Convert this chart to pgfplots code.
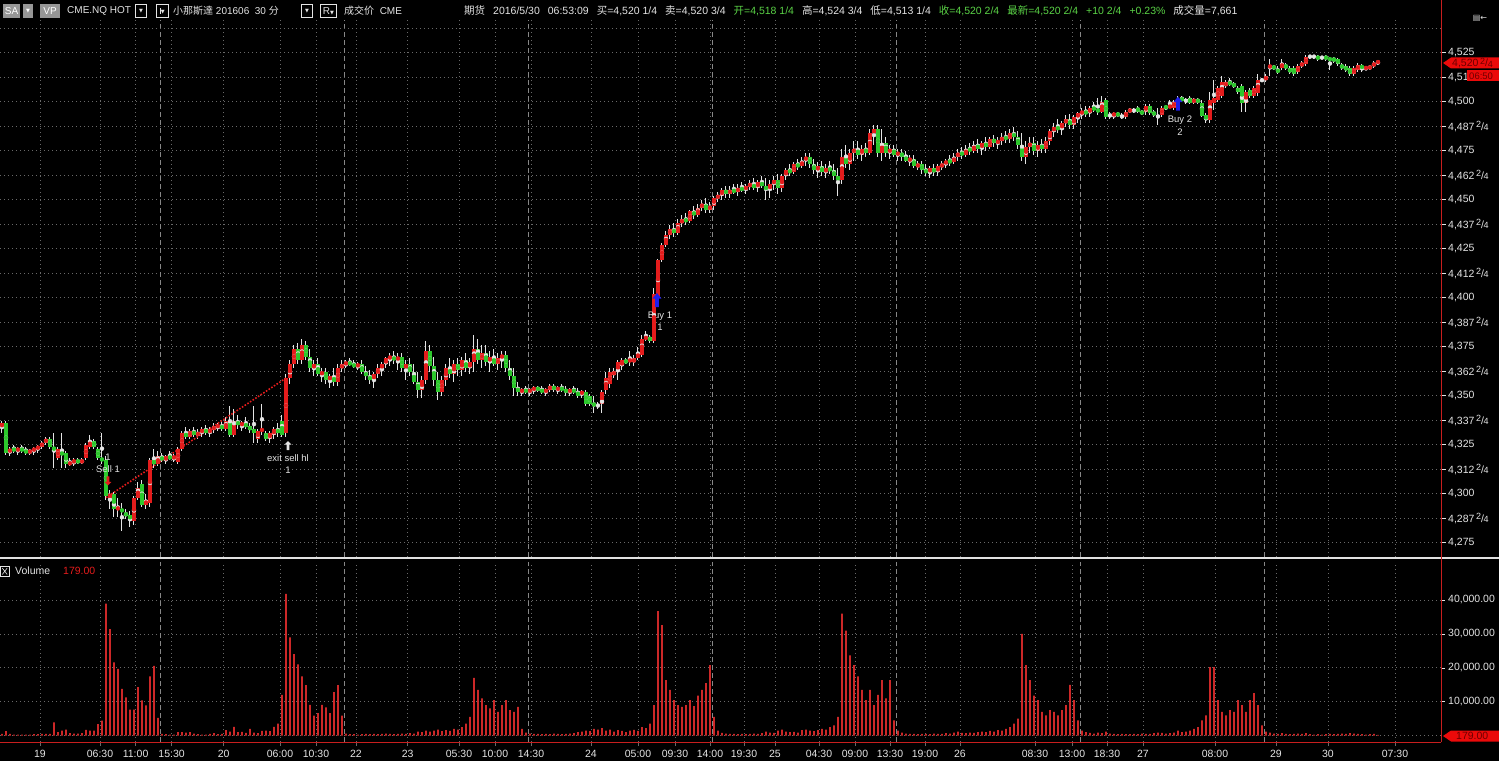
\documentclass[border=0pt]{standalone}
\usepackage{pgfplots}
\pgfplotsset{compat=1.18}
\usepackage{pgfplotstable}
\usepackage{fontspec}
\setmainfont{Liberation Sans}
\newfontfamily\cjk{Noto Sans CJK SC}
\newfontfamily\dejavu{DejaVu Sans}

\definecolor{upred}{RGB}{228,28,28}
\definecolor{dngreen}{RGB}{44,200,44}
\definecolor{volred}{RGB}{205,40,40}
\definecolor{axred}{RGB}{200,30,30}
\definecolor{gridc}{RGB}{105,105,105}
\definecolor{dashc}{RGB}{135,135,135}
\definecolor{txt}{RGB}{228,228,228}
\definecolor{hgreen}{RGB}{90,210,70}
\definecolor{tagred}{RGB}{235,10,10}
\definecolor{tagtxt}{RGB}{110,0,0}
\definecolor{btnfill}{RGB}{150,150,150}
\definecolor{buyblue}{RGB}{30,30,235}

\newcommand{\hf}{\,\raisebox{2.8pt}{\fontsize{9}{9}\selectfont 2}\kern-0.2pt/\kern-0.2pt\raisebox{-0.4pt}{\fontsize{9}{9}\selectfont 4}}
\newcommand{\fs}{\fontsize{9.5}{11}\selectfont}
\newcommand{\ts}{\fontsize{10.5}{12}\selectfont}
\newcommand{\hs}{\fontsize{10}{11}\selectfont}
\newcommand{\gap}{\hspace{8pt}}

\pgfdeclareplotmark{uparrow}{%
 \pgfpathmoveto{\pgfqpoint{0pt}{7pt}}%
 \pgfpathlineto{\pgfqpoint{4.5pt}{1.5pt}}%
 \pgfpathlineto{\pgfqpoint{1.8pt}{1.5pt}}%
 \pgfpathlineto{\pgfqpoint{1.8pt}{-7pt}}%
 \pgfpathlineto{\pgfqpoint{-1.8pt}{-7pt}}%
 \pgfpathlineto{\pgfqpoint{-1.8pt}{1.5pt}}%
 \pgfpathlineto{\pgfqpoint{-4.5pt}{1.5pt}}%
 \pgfpathclose\pgfusepathqfill}
\pgfdeclareplotmark{smallup}{%
 \pgfpathmoveto{\pgfqpoint{0pt}{4.5pt}}%
 \pgfpathlineto{\pgfqpoint{3.5pt}{1pt}}%
 \pgfpathlineto{\pgfqpoint{1.3pt}{1pt}}%
 \pgfpathlineto{\pgfqpoint{1.3pt}{-4.5pt}}%
 \pgfpathlineto{\pgfqpoint{-1.3pt}{-4.5pt}}%
 \pgfpathlineto{\pgfqpoint{-1.3pt}{1pt}}%
 \pgfpathlineto{\pgfqpoint{-3.5pt}{1pt}}%
 \pgfpathclose\pgfusepathqfill}
\pgfdeclareplotmark{dnarrow}{%
 \pgfpathmoveto{\pgfqpoint{0pt}{-4.5pt}}%
 \pgfpathlineto{\pgfqpoint{3.5pt}{-1pt}}%
 \pgfpathlineto{\pgfqpoint{1.3pt}{-1pt}}%
 \pgfpathlineto{\pgfqpoint{1.3pt}{4.5pt}}%
 \pgfpathlineto{\pgfqpoint{-1.3pt}{4.5pt}}%
 \pgfpathlineto{\pgfqpoint{-1.3pt}{-1pt}}%
 \pgfpathlineto{\pgfqpoint{-3.5pt}{-1pt}}%
 \pgfpathclose\pgfusepathqfill}

\pgfplotstableread{
i o h l c v
0 4334 4337 4331 4336 500
1 4336 4337 4320 4321 1300
2 4321 4324 4319 4323 500
3 4323 4325 4321 4322 300
4 4322 4324 4320 4323 300
5 4323 4325 4321 4322 300
6 4322 4324 4320 4321 300
7 4321 4323 4320 4322 300
8 4322 4324 4320 4323 400
9 4323 4325 4321 4324 400
10 4324 4327 4323 4326 500
11 4326 4329 4325 4328 500
12 4328 4329 4323 4324 500
13 4324 4331 4313 4322 3900
14 4318 4324 4317 4323 1000
15 4321 4331 4313 4320 1500
16 4321 4322 4313 4315 1800
17 4315 4318 4314 4316 700
18 4316 4318 4314 4317 600
19 4317 4318 4315 4316 600
20 4316 4318 4315 4317 700
21 4318 4326 4317 4325 1700
22 4324 4330 4323 4327 1500
23 4327 4328 4323 4324 1500
24 4323 4324 4317 4318 3400
25 4318 4331 4315 4317 4400
26 4317 4319 4297 4299 38900
27 4298 4302 4292 4300 31400
28 4300 4301 4288 4292 21600
29 4292 4298 4288 4293 19700
30 4292 4295 4281 4291 13800
31 4290 4292 4287 4289 11300
32 4289 4291 4283 4287 7700
33 4286 4299 4284 4298 7700
34 4298 4306 4297 4303 14300
35 4305 4307 4293 4294 10400
36 4294 4300 4292 4297 8900
37 4295 4318 4293 4317 17500
38 4317 4323 4313 4315 20600
39 4315 4322 4314 4319 5200
40 4319 4321 4316 4317 500
41 4317 4320 4315 4319 400
42 4319 4322 4317 4318 300
43 4318 4320 4316 4319 300
44 4316 4324 4315 4323 1000
45 4323 4332 4322 4331 1000
46 4331 4334 4328 4329 900
47 4329 4333 4328 4332 1000
48 4332 4334 4329 4330 600
49 4330 4333 4328 4331 400
50 4331 4334 4329 4333 300
51 4333 4335 4330 4331 300
52 4331 4334 4329 4333 500
53 4333 4336 4331 4334 700
54 4334 4336 4332 4335 400
55 4335 4337 4332 4333 500
56 4333 4339 4332 4337 1600
57 4337 4345 4329 4330 1200
58 4330 4343 4329 4337 2600
59 4337 4340 4333 4335 1000
60 4335 4337 4332 4336 1100
61 4336 4339 4333 4334 800
62 4334 4336 4331 4333 2000
63 4333 4345 4326 4331 900
64 4328 4333 4326 4332 700
65 4332 4346 4330 4333 1400
66 4331 4332 4327 4328 1500
67 4328 4332 4326 4331 1300
68 4330 4334 4328 4333 2600
69 4333 4336 4329 4331 3500
70 4337 4340 4329 4330 12000
71 4331 4361 4329 4359 41800
72 4359 4368 4356 4366 29000
73 4366 4376 4364 4374 24000
74 4374 4377 4366 4368 21000
75 4368 4379 4366 4376 17500
76 4376 4378 4368 4370 14900
77 4370 4374 4362 4364 9100
78 4364 4368 4360 4366 5900
79 4366 4369 4360 4361 6600
80 4361 4364 4357 4362 9100
81 4362 4364 4356 4358 8300
82 4358 4361 4354 4360 6600
83 4360 4364 4355 4357 12800
84 4357 4366 4355 4364 14900
85 4364 4368 4362 4366 5900
86 4366 4368 4364 4367 600
87 4367 4369 4365 4366 400
88 4366 4368 4364 4365 400
89 4365 4367 4363 4366 300
90 4366 4368 4361 4362 400
91 4362 4365 4358 4360 500
92 4360 4363 4356 4358 400
93 4358 4362 4354 4361 500
94 4361 4366 4359 4364 400
95 4364 4367 4360 4366 500
96 4366 4370 4364 4369 600
97 4369 4372 4365 4370 500
98 4370 4373 4366 4368 400
99 4368 4372 4363 4370 500
100 4370 4372 4362 4364 600
101 4364 4368 4358 4366 500
102 4366 4369 4360 4362 700
103 4362 4366 4356 4357 600
104 4357 4362 4349 4353 1200
105 4353 4360 4349 4358 1000
106 4358 4378 4356 4373 1500
107 4373 4376 4362 4365 1200
108 4365 4370 4355 4358 1500
109 4358 4362 4348 4352 1800
110 4352 4360 4350 4358 1300
111 4358 4366 4355 4364 1600
112 4364 4369 4359 4361 1400
113 4361 4368 4357 4366 2000
114 4366 4369 4360 4363 1800
115 4363 4370 4360 4368 2500
116 4368 4372 4362 4364 3500
117 4364 4369 4361 4367 5500
118 4367 4381 4362 4374 17000
119 4374 4379 4366 4368 13500
120 4368 4376 4364 4372 11000
121 4372 4376 4365 4367 9000
122 4367 4373 4362 4370 8000
123 4370 4374 4365 4366 10500
124 4366 4372 4363 4369 7000
125 4369 4373 4364 4371 9000
126 4371 4373 4362 4364 10500
127 4364 4368 4358 4360 7500
128 4360 4364 4350 4354 7000
129 4354 4357 4350 4352 8500
130 4352 4354 4350 4353 2000
131 4353 4355 4351 4352 900
132 4352 4354 4350 4353 600
133 4353 4355 4351 4354 500
134 4354 4355 4352 4353 500
135 4353 4355 4351 4352 400
136 4352 4354 4350 4353 500
137 4353 4356 4352 4355 400
138 4355 4356 4352 4353 600
139 4353 4355 4351 4354 500
140 4354 4356 4352 4353 400
141 4353 4355 4350 4352 500
142 4352 4354 4350 4353 600
143 4353 4355 4351 4352 700
144 4352 4354 4349 4350 1000
145 4351 4353 4349 4352 1200
146 4352 4353 4345 4346 1500
147 4350 4351 4345 4346 1300
148 4346 4350 4341 4345 2000
149 4345 4347 4343 4345 1800
150 4346 4353 4341 4352 2200
151 4353 4362 4351 4359 1500
152 4356 4364 4354 4362 1800
153 4361 4364 4359 4362 1200
154 4362 4368 4358 4367 1600
155 4365 4369 4363 4368 1400
156 4368 4369 4366 4367 1000
157 4367 4373 4365 4369 1500
158 4367 4371 4365 4369 1700
159 4369 4375 4368 4372 1400
160 4371 4381 4370 4379 2500
161 4379 4383 4378 4380 2200
162 4380 4381 4377 4378 3500
163 4378 4405 4377 4402 9000
164 4400 4420 4398 4419 36700
165 4419 4428 4418 4427 32600
166 4427 4434 4426 4432 16400
167 4432 4437 4430 4435 13500
168 4435 4438 4431 4433 10500
169 4433 4440 4432 4438 9000
170 4438 4442 4436 4440 8500
171 4440 4443 4437 4439 9000
172 4439 4445 4438 4444 10500
173 4444 4447 4440 4442 8700
174 4442 4448 4441 4446 11800
175 4446 4450 4444 4448 13500
176 4448 4451 4443 4445 15500
177 4445 4449 4443 4447 20800
178 4447 4452 4445 4451 5500
179 4451 4454 4449 4452 1500
180 4452 4456 4450 4455 800
181 4455 4457 4451 4453 600
182 4453 4457 4451 4455 500
183 4455 4458 4453 4454 500
184 4454 4458 4452 4456 400
185 4456 4459 4454 4455 500
186 4455 4458 4453 4457 400
187 4457 4460 4455 4458 500
188 4458 4461 4455 4456 600
189 4456 4460 4454 4459 500
190 4459 4462 4456 4457 700
191 4457 4461 4450 4455 1200
192 4455 4460 4451 4458 900
193 4458 4462 4455 4460 800
194 4460 4463 4453 4456 1500
195 4456 4463 4454 4462 1800
196 4462 4466 4460 4465 1200
197 4465 4468 4462 4464 1000
198 4464 4469 4463 4468 1100
199 4468 4471 4465 4467 900
200 4467 4472 4466 4470 1600
201 4470 4474 4467 4472 1800
202 4472 4474 4466 4468 1500
203 4468 4471 4463 4465 1300
204 4465 4469 4461 4467 1600
205 4467 4470 4462 4464 2000
206 4464 4468 4461 4466 1800
207 4466 4470 4463 4465 2500
208 4465 4468 4460 4462 3000
209 4462 4466 4452 4460 5500
210 4460 4476 4458 4472 36000
211 4472 4478 4466 4468 31000
212 4468 4476 4465 4474 23700
213 4474 4480 4470 4476 20800
214 4476 4480 4471 4473 17500
215 4473 4478 4470 4476 13500
216 4476 4479 4472 4474 10500
217 4474 4486 4473 4484 13500
218 4484 4488 4478 4486 9000
219 4486 4488 4472 4474 12000
220 4474 4486 4470 4479 16400
221 4479 4482 4472 4474 11000
222 4474 4478 4471 4476 16400
223 4476 4478 4472 4473 4500
224 4473 4476 4470 4474 1500
225 4474 4476 4470 4472 900
226 4472 4475 4469 4470 600
227 4470 4473 4467 4471 500
228 4471 4473 4466 4467 500
229 4467 4470 4465 4468 400
230 4468 4470 4463 4465 500
231 4465 4468 4462 4464 500
232 4464 4467 4461 4466 400
233 4466 4468 4462 4464 600
234 4464 4468 4462 4467 500
235 4467 4470 4465 4468 500
236 4468 4471 4466 4470 700
237 4470 4473 4467 4469 600
238 4469 4474 4468 4472 900
239 4472 4476 4470 4474 1200
240 4474 4477 4471 4473 800
241 4473 4478 4472 4476 700
242 4476 4479 4473 4475 900
243 4475 4480 4474 4478 800
244 4478 4481 4474 4476 1000
245 4476 4480 4473 4479 1200
246 4479 4482 4475 4477 1000
247 4477 4482 4476 4481 1400
248 4481 4483 4477 4479 1200
249 4479 4482 4476 4480 1600
250 4480 4484 4478 4482 1500
251 4482 4485 4479 4481 2000
252 4481 4486 4479 4484 2500
253 4484 4487 4480 4482 3500
254 4482 4485 4476 4478 5000
255 4478 4484 4470 4472 30000
256 4472 4480 4468 4477 20800
257 4477 4482 4474 4479 16400
258 4479 4482 4473 4475 11800
259 4475 4480 4472 4478 10500
260 4478 4481 4474 4476 7000
261 4476 4482 4474 4480 6000
262 4480 4486 4478 4485 7500
263 4485 4489 4482 4487 7000
264 4487 4491 4484 4486 6000
265 4486 4490 4483 4489 7500
266 4489 4493 4487 4491 9000
267 4491 4494 4486 4488 15000
268 4488 4493 4486 4492 10500
269 4492 4495 4489 4494 4500
270 4494 4497 4491 4495 1500
271 4495 4498 4492 4494 1000
272 4494 4498 4492 4497 800
273 4497 4500 4495 4496 600
274 4496 4502 4493 4495 900
275 4495 4503 4494 4500 700
276 4501 4502 4491 4492 1200
277 4493 4495 4491 4493 600
278 4493 4495 4491 4494 500
279 4494 4495 4492 4493 400
280 4493 4494 4491 4493 500
281 4492 4496 4491 4495 400
282 4495 4497 4494 4496 400
283 4496 4497 4494 4496 500
284 4497 4498 4494 4495 400
285 4495 4496 4493 4494 600
286 4495 4499 4493 4498 500
287 4498 4499 4493 4494 500
288 4495 4496 4492 4493 700
289 4493 4497 4488 4493 900
290 4493 4498 4492 4497 800
291 4497.5 4498 4496 4497 600
292 4497 4501 4497 4498 700
293 4497 4501 4496 4500 900
294 4500 4503 4498 4501 1500
295 4502 4503 4500 4500.5 1000
296 4501 4502 4499 4501 1200
297 4502 4503 4499 4499.5 1500
298 4500 4502 4499 4501 2000
299 4501 4502 4499 4500 2500
300 4499.5 4501 4492 4492.5 4500
301 4493 4494 4489 4491 6000
302 4490.5 4505 4489 4501 20200
303 4499.5 4511 4496 4502 20200
304 4501 4508 4500 4507 10500
305 4503 4513 4502 4510 7000
306 4508 4511 4507 4510 6000
307 4510 4512 4508 4509 7500
308 4509 4510 4507 4508 7000
309 4507 4508 4504 4505 10500
310 4508 4509 4495 4499.5 9000
311 4499.5 4506 4495 4505 7000
312 4506 4507 4502 4503 10500
313 4503 4508 4502 4507 12500
314 4504.5 4514 4503 4511 9000
315 4511 4512 4510 4511 3000
316 4511 4514 4510 4513 1200
317 4517 4522 4513 4519 900
318 4518 4519 4516 4517 600
319 4516.5 4518 4514 4515 500
320 4517 4522 4516 4520 700
321 4519 4520 4516 4517 500
322 4517 4518 4514 4515 400
323 4517 4518 4513 4514 500
324 4515 4519 4514 4518 600
325 4518 4521 4517 4520 500
326 4519 4524 4518 4523 700
327 4523 4524 4522 4523 400
328 4523 4524 4522 4523 300
329 4523 4524 4521 4522 400
330 4522.5 4523 4522 4522.5 300
331 4523 4524 4521 4522 400
332 4522 4523 4516 4521.5 500
333 4522 4523 4520 4521 400
334 4522 4522.5 4518 4519 500
335 4519 4520 4516 4517 600
336 4518 4519 4515 4516 500
337 4517 4518 4513 4514 700
338 4514 4518 4513 4517 600
339 4516 4520 4515 4519 500
340 4518 4519 4515 4517.5 400
341 4517 4518 4516 4517.5 300
342 4517 4519 4516 4518 400
343 4518 4521 4517 4520 500
344 4520 4521 4519 4520.5 179
}\data

\begin{document}
\begin{tikzpicture}
\useasboundingbox (0pt,0pt) rectangle (1499pt,761pt);
\fill[black] (0pt,0pt) rectangle (1499pt,761pt);

% ---------------- price panel ----------------
\begin{axis}[
  at={(0pt,204pt)}, anchor=south west, scale only axis,
  width=1441pt, height=537pt,
  xmin=-0.5, xmax=359.75, ymin=4267.7, ymax=4541.7,
  axis line style={draw=none},
  scaled y ticks=false,
  xtick={9.5,24.5,33.4,42.4,55.4,69.5,78.5,88.5,101.4,114.25,123.25,132.25,147.25,159,168.25,177,185.5,193.25,204.25,213.25,222,230.75,239.5,258.25,267.5,276.25,285.25,303.25,318.5,331.5,348.25},
  xticklabels={}, xtick style={draw=none},
  xmajorgrids, ymajorgrids,
  major grid style={gridc, line width=0.7pt, dash pattern=on 0.8pt off 3.2pt},
  ytick={4275,4287.5,4300,4312.5,4325,4337.5,4350,4362.5,4375,4387.5,4400,4412.5,4425,4437.5,4450,4462.5,4475,4487.5,4500,4512.5,4525},
  yticklabels={{4,275},{4,287\hf},{4,300},{4,312\hf},{4,325},{4,337\hf},{4,350},{4,362\hf},{4,375},{4,387\hf},{4,400},{4,412\hf},{4,425},{4,437\hf},{4,450},{4,462\hf},{4,475},{4,487\hf},{4,500},{4,51},{4,525}},
  ytick pos=right, yticklabel pos=right,
  tick align=outside, major tick length=5pt,
  ytick style={txt, line width=0.6pt},
  yticklabel style={anchor=west, inner sep=0pt, xshift=2pt, text=txt, font=\ts},
  extra x ticks={39.5,85.5,131.5,177.5,223.5,269.5,315.5},
  extra x tick labels={},
  extra x tick style={grid=major, major tick length=0pt, major grid style={dashc, line width=0.7pt, dash pattern=on 5pt off 3pt}},
  extra y ticks={4537.5}, extra y tick labels={},
  extra y tick style={grid=major, major tick length=0pt},
]
% wicks
\addplot[txt, only marks, mark=none, error bars/.cd, y dir=both, y explicit, error mark=none,
  error bar style={txt, line width=1pt}]
  table[x=i, y expr={(\thisrow{h}+\thisrow{l})/2}, y error expr={(\thisrow{h}-\thisrow{l})/2}] {\data};
% up bodies (red)
\addplot[upred, only marks, mark=none, error bars/.cd, y dir=both, y explicit, error mark=none,
  error bar style={upred, line width=3.2pt}]
  table[x=i, y expr={\thisrow{c}>\thisrow{o} ? (\thisrow{o}+\thisrow{c})/2 : nan}, y error expr={abs(\thisrow{c}-\thisrow{o})/2}] {\data};
% down bodies (green)
\addplot[dngreen, only marks, mark=none, error bars/.cd, y dir=both, y explicit, error mark=none,
  error bar style={dngreen, line width=3.2pt}]
  table[x=i, y expr={\thisrow{c}<\thisrow{o} ? (\thisrow{o}+\thisrow{c})/2 : nan}, y error expr={abs(\thisrow{c}-\thisrow{o})/2}] {\data};
% doji
\addplot[txt, only marks, mark=-, mark size=1.7pt, mark options={line width=1pt}]
  table[x=i, y expr={\thisrow{c}==\thisrow{o} ? \thisrow{c} : nan}] {\data};
% trade line
\addplot[upred, line width=1.6pt, dash pattern=on 1.6pt off 1.6pt] coordinates {(26,4298) (71,4359)};
% trade markers
\addplot[upred, only marks, mark=dnarrow] coordinates {(26.5,4306.5)};
\addplot[txt, only marks, mark=smallup] coordinates {(71.5,4324.5)};
\addplot[buyblue, only marks, mark=uparrow] coordinates {(163.75,4398.8)};
\addplot[buyblue, only marks, mark=uparrow] coordinates {(294,4499)};
\node[text=txt, font=\fs, inner sep=0pt] at (axis cs:26.5,4318.6) {1};
\node[text=txt, font=\fs, inner sep=0pt] at (axis cs:26.5,4312.5) {Sell 1};
\node[text=txt, font=\fs, inner sep=0pt] at (axis cs:71.5,4318.1) {exit sell hl};
\node[text=txt, font=\fs, inner sep=0pt] at (axis cs:71.5,4312) {1};
\node[text=txt, font=\fs, inner sep=0pt] at (axis cs:164.5,4390.6) {Buy 1};
\node[text=txt, font=\fs, inner sep=0pt] at (axis cs:164.5,4385) {1};
\node[text=txt, font=\fs, inner sep=0pt] at (axis cs:294.5,4490.7) {Buy 2};
\node[text=txt, font=\fs, inner sep=0pt] at (axis cs:294.5,4484.5) {2};
\end{axis}

% ---------------- volume panel ----------------
\begin{axis}[
  at={(0pt,19pt)}, anchor=south west, scale only axis,
  width=1441pt, height=180pt,
  xmin=-0.5, xmax=359.75, ymin=-1888, ymax=51210,
  axis line style={draw=none},
  scaled y ticks=false, scaled x ticks=false,
  xtick={9.5,24.5,33.4,42.4,55.4,69.5,78.5,88.5,101.4,114.25,123.25,132.25,147.25,159,168.25,177,185.5,193.25,204.25,213.25,222,230.75,239.5,258.25,267.5,276.25,285.25,303.25,318.5,331.5,348.25},
  xticklabels={19,06:30,11:00,15:30,20,06:00,10:30,22,23,05:30,10:00,14:30,24,05:00,09:30,14:00,19:30,25,04:30,09:00,13:30,19:00,26,08:30,13:00,18:30,27,08:00,29,30,07:30},
  xtick pos=bottom,
  xtick style={gridc, line width=0.6pt},
  xticklabel style={anchor=north, inner sep=0pt, yshift=-3.5pt, text=txt, font=\ts},
  xmajorgrids, ymajorgrids,
  major grid style={gridc, line width=0.7pt, dash pattern=on 0.8pt off 3.2pt},
  ytick={10000,20000,30000,40000},
  yticklabels={{10,000.00},{20,000.00},{30,000.00},{40,000.00}},
  ytick pos=right, yticklabel pos=right,
  tick align=outside, major tick length=4pt,
  ytick style={txt, line width=0.6pt},
  yticklabel style={anchor=west, inner sep=0pt, xshift=3pt, text=txt, font=\ts},
  extra x ticks={39.5,85.5,131.5,177.5,223.5,269.5,315.5},
  extra x tick labels={},
  extra x tick style={grid=major, major tick length=0pt, major grid style={dashc, line width=0.7pt, dash pattern=on 5pt off 3pt}},
  extra y ticks={0}, extra y tick labels={},
  extra y tick style={grid=major, major tick length=0pt},
]
\addplot[ybar, bar width=1.7pt, bar shift=0pt, fill=volred, draw=none] table[x=i, y=v] {\data};
\end{axis}

% ---------------- frame decorations ----------------
\fill[white!88!black] (0pt,202pt) rectangle (1499pt,204.3pt);
\draw[axred, line width=1pt] (0pt,19pt) -- (1441pt,19pt);
\draw[axred, line width=1pt] (1441pt,19pt) -- (1441pt,761pt);

% last price tag
\fill[tagred] (1443pt,698pt) -- (1451pt,703.5pt) -- (1499pt,703.5pt) -- (1499pt,692.5pt) -- (1451pt,692.5pt) -- cycle;
\node[anchor=west, inner sep=0pt, text=tagtxt, font=\ts] at (1452pt,698pt) {4,520\hf};
\fill[tagred] (1467pt,679.5pt) rectangle (1499pt,690.5pt);
\node[anchor=west, inner sep=0pt, text=tagtxt, font=\fs] at (1469pt,685pt) {06:50};
% volume tag
\fill[tagred] (1443pt,25pt) -- (1451pt,30.5pt) -- (1499pt,30.5pt) -- (1499pt,19.5pt) -- (1451pt,19.5pt) -- cycle;
\node[anchor=west, inner sep=0pt, text=tagtxt, font=\ts] at (1456pt,25pt) {179.00};

% volume header
\draw[txt, line width=0.6pt] (0.5pt,184.5pt) rectangle (9pt,195pt);
\draw[txt, line width=0.6pt] (2.3pt,186.5pt) -- (7.2pt,193pt) (2.3pt,193pt) -- (7.2pt,186.5pt);
\node[anchor=west, inner sep=0pt, text=txt, font=\ts] at (15pt,190pt) {Volume};
\node[anchor=west, inner sep=0pt, text=upred, font=\ts] at (63pt,190pt) {179.00};

% header
\fill[btnfill] (3pt,743pt) rectangle (20pt,757pt);
\node[text=white, font=\hs, inner sep=0pt] at (11.5pt,750pt) {SA};
\fill[btnfill] (23pt,743pt) rectangle (33pt,757pt);
\node[text=white, font=\dejavu\fontsize{5}{5}\selectfont, inner sep=0pt] at (28pt,750pt) {▼};
\fill[btnfill] (40pt,743pt) rectangle (60pt,757pt);
\node[text=white, font=\hs, inner sep=0pt] at (50pt,750pt) {VP};
\node[anchor=west, text=txt, font=\hs, inner sep=0pt] at (67pt,750pt) {CME.NQ HOT};
\draw[txt, line width=0.7pt] (135.5pt,743.5pt) rectangle (146.5pt,756.5pt);
\node[text=txt, font=\dejavu\fontsize{5}{5}\selectfont, inner sep=0pt] at (141pt,750pt) {▼};
\draw[txt, line width=0.7pt] (156.5pt,743.5pt) rectangle (168.5pt,756.5pt);
\node[text=txt, font=\dejavu\fontsize{5}{5}\selectfont, inner sep=0pt] at (162.5pt,750pt) {\rule{0.6pt}{6pt}▼};
\node[anchor=west, text=txt, font=\hs, inner sep=0pt] at (173pt,750pt) {{\cjk 小那斯達} 201606\ \ 30 {\cjk 分}};
\draw[txt, line width=0.7pt] (301.5pt,743.5pt) rectangle (312.5pt,756.5pt);
\node[text=txt, font=\dejavu\fontsize{5}{5}\selectfont, inner sep=0pt] at (307pt,750pt) {▼};
\draw[txt, line width=0.7pt] (320.5pt,743.5pt) rectangle (336.5pt,756.5pt);
\node[text=txt, font=\hs, inner sep=0pt] at (328.5pt,750pt) {R{\dejavu\fontsize{5}{5}\selectfont ▼}};
\node[anchor=west, text=txt, font=\hs, inner sep=0pt] at (344pt,750pt) {{\cjk 成交价}\ \ CME};

\node[anchor=west, text=txt, font=\fontsize{10.5}{12}\selectfont, inner sep=0pt] at (464pt,750pt) {%
{\cjk 期货}\gap 2016/5/30\gap 06:53:09\gap {\cjk 买}=4,520 1/4\gap {\cjk 卖}=4,520 3/4\gap
\textcolor{hgreen}{{\cjk 开}=4,518 1/4}\gap {\cjk 高}=4,524 3/4\gap {\cjk 低}=4,513 1/4\gap
\textcolor{hgreen}{{\cjk 收}=4,520 2/4\gap {\cjk 最新}=4,520 2/4\gap +10 2/4\gap +0.23\%}\gap {\cjk 成交量}=7,661};
\node[text=txt, font=\dejavu\fontsize{8}{8}\selectfont, inner sep=0pt] at (1480pt,743pt) {▤←};
\end{tikzpicture}
\end{document}
